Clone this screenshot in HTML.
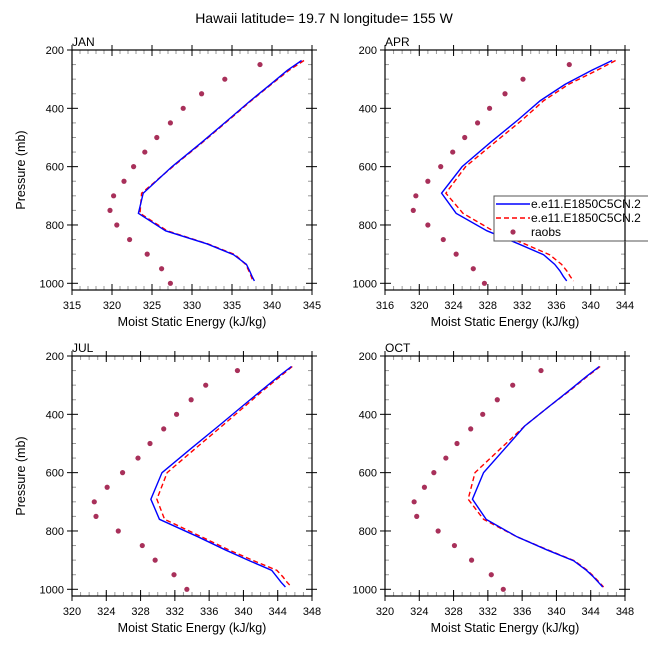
<!DOCTYPE html>
<html><head><meta charset="utf-8"><style>
html,body{margin:0;padding:0;background:#fff;}
svg text{font-family:"Liberation Sans",sans-serif;fill:#000;}
</style></head><body>
<svg id="fig" width="648" height="648" viewBox="0 0 648 648" xmlns="http://www.w3.org/2000/svg">
<rect width="648" height="648" fill="#fff"/>
<text x="324" y="23" font-size="14" text-anchor="middle">Hawaii  latitude= 19.7 N longitude= 155 W</text>
</svg>
<script>
const modelLevels=[236,270,318,374,440,517,600,691,760,820,865,902,935,957,976,992];
const obsLevels=[250,300,350,400,450,500,550,600,650,700,750,800,850,900,950,1000];
const janBlue=[343.7,341.9,339.8,337.3,334.5,331.2,327.5,323.9,323.3,326.7,331.9,335.2,336.8,337.2,337.5,337.8];
const janRed=[344.0,342.1,339.9,337.4,334.6,331.3,327.6,323.7,323.5,326.9,332.0,335.4,336.7,337.1,337.4,337.6];
const janObs=[338.5,334.1,331.2,328.9,327.3,325.6,324.1,322.7,321.5,320.2,319.75,320.6,322.2,324.4,326.2,327.3];
const aprBlue=[342.5,340.1,337.0,334.1,331.5,328.3,325.0,322.6,324.3,327.9,331.6,334.5,335.8,336.4,336.8,337.2];
const aprRed=[342.9,340.7,337.4,334.5,332.0,328.8,325.4,323.1,325.1,328.6,332.3,335.2,336.6,337.2,337.6,338.0];
const aprObs=[337.5,332.1,330.0,328.2,326.8,325.3,323.9,322.5,321.0,319.6,319.3,321.0,322.8,324.3,326.3,327.6];
const julBlue=[345.6,344.1,342.1,339.8,337.1,333.9,330.5,329.2,330.2,334.7,337.9,340.7,343.3,343.9,344.4,344.9];
const julRed=[345.7,344.3,342.3,340.1,337.5,334.4,331.1,329.9,330.8,335.1,338.3,341.2,343.9,344.6,345.1,345.6];
const julObs=[339.3,335.6,333.9,332.2,330.7,329.1,327.7,325.9,324.1,322.6,322.8,325.4,328.2,329.7,331.9,333.4];
const octBlue=[345.0,343.5,341.5,339.1,336.3,334.0,331.5,330.2,331.8,335.4,338.9,342.0,343.5,344.3,344.9,345.4];
const octRed=[345.1,343.6,341.6,339.1,336.3,333.5,330.5,329.7,331.5,335.4,339.0,342.1,343.6,344.4,345.0,345.5];
const octObs=[338.2,334.9,333.1,331.4,330.0,328.4,327.1,325.7,324.6,323.4,323.7,326.2,328.1,330.1,332.4,333.8];
const janTicks=[315,320,325,330,335,340,345];
const aprTicks=[316,320,324,328,332,336,340,344];
const julTicks=[320,324,328,332,336,340,344,348];
const octTicks=[320,324,328,332,336,340,344,348];
const pTicks=[200,400,600,800,1000];

const NS="http://www.w3.org/2000/svg";
const svg=document.getElementById('fig');
function mk(tag,attrs,parent){const e=document.createElementNS(NS,tag);for(const k in attrs)e.setAttribute(k,attrs[k]);(parent||svg).appendChild(e);return e;}

const panels=[
 {name:'jan',label:'JAN',x0:72,y0:50,ticks:janTicks,minor:1,blue:janBlue,red:janRed,obs:janObs,ylab:true},
 {name:'apr',label:'APR',x0:385,y0:50,ticks:aprTicks,minor:1,blue:aprBlue,red:aprRed,obs:aprObs,ylab:false},
 {name:'jul',label:'JUL',x0:72,y0:356,ticks:julTicks,minor:1,blue:julBlue,red:julRed,obs:julObs,ylab:true},
 {name:'oct',label:'OCT',x0:385,y0:356,ticks:octTicks,minor:1,blue:octBlue,red:octRed,obs:octObs,ylab:false}
];
const W=240,H=240;
panels.forEach(p=>{
 const g=mk('g',{});
 
 
 const xmin=p.ticks[0],xmax=p.ticks[p.ticks.length-1];
 const xs=v=>p.x0+(v-xmin)/(xmax-xmin)*W;
 const pb=200+H/(233.3/800);
 const ys=v=>p.y0+(v-200)/(pb-200)*H;
 for(let v=xmin;v<=xmax+1e-6;v+=p.minor){const x=xs(v);
  mk('line',{x1:x,x2:x,y1:p.y0+H,y2:p.y0+H-4,stroke:'#999','stroke-width':1},g);
  mk('line',{x1:x,x2:x,y1:p.y0,y2:p.y0+4,stroke:'#999','stroke-width':1},g);}
 for(let v=250;v<pb;v+=50){if(v%200===0)continue;const y=ys(v);
  mk('line',{x1:p.x0,x2:p.x0+4,y1:y,y2:y,stroke:'#999','stroke-width':1},g);
  mk('line',{x1:p.x0+W,x2:p.x0+W-4,y1:y,y2:y,stroke:'#999','stroke-width':1},g);}
 p.ticks.forEach(v=>{const x=xs(v);
  mk('line',{x1:x,x2:x,y1:p.y0+H-6,y2:p.y0+H+5,stroke:'#000','stroke-width':1},g);
  mk('line',{x1:x,x2:x,y1:p.y0-5,y2:p.y0+6,stroke:'#000','stroke-width':1},g);
  const t=mk('text',{x:x,y:p.y0+H+19,'font-size':11,'text-anchor':'middle'},g);t.textContent=v;
  
  });
 pTicks.forEach(v=>{const y=ys(v);
  mk('line',{x1:p.x0-5,x2:p.x0+6,y1:y,y2:y,stroke:'#000','stroke-width':1},g);
  mk('line',{x1:p.x0+W-6,x2:p.x0+W+5,y1:y,y2:y,stroke:'#000','stroke-width':1},g);
  const t=mk('text',{x:p.x0-8,y:y+4,'font-size':11,'text-anchor':'end'},g);t.textContent=v;
  
  });
 mk('rect',{x:p.x0,y:p.y0,width:W,height:H,fill:'none',stroke:'#000','stroke-width':1.2},g);
 const lab=mk('text',{x:p.x0,y:p.y0-4,'font-size':12},g);lab.textContent=p.label;
 
 
 const xl=mk('text',{x:p.x0+W/2,y:p.y0+H+36,'font-size':12.5,'text-anchor':'middle'},g);xl.textContent='Moist Static Energy (kJ/kg)';
 
 
 if(p.ylab){const yl=mk('text',{x:0,y:0,'font-size':12.5,'text-anchor':'middle',transform:`translate(25,${p.y0+H/2}) rotate(-90)`},g);yl.textContent='Pressure (mb)';
  
  }
 const rp=mk('polyline',{points:p.red.map((v,i)=>xs(v)+','+ys(modelLevels[i])).join(' '),fill:'none',stroke:'#ff0000','stroke-width':1.4,'stroke-dasharray':'5,3'},g);
 
 
 const bp=mk('polyline',{points:p.blue.map((v,i)=>xs(v)+','+ys(modelLevels[i])).join(' '),fill:'none',stroke:'#0000ff','stroke-width':1.4},g);
 
 
 p.obs.forEach((v,i)=>{const c=mk('circle',{cx:xs(v),cy:ys(obsLevels[i]),r:2.6,fill:'#a8305a'},g);
  
  });
});
const lg=mk('g',{});


mk('rect',{x:494,y:196,width:160,height:45,fill:'#fff',stroke:'#555','stroke-width':1},lg);
mk('line',{x1:496,x2:530,y1:204,y2:204,stroke:'#0000ff','stroke-width':1.4},lg);
mk('line',{x1:496,x2:530,y1:218,y2:218,stroke:'#ff0000','stroke-width':1.4,'stroke-dasharray':'5,3'},lg);
mk('circle',{cx:513,cy:232,r:2.6,fill:'#a8305a'},lg);
const le=[['e.e11.E1850C5CN.2',208],['e.e11.E1850C5CN.2',222],['raobs',236]];
le.forEach(([s,y])=>{const t=mk('text',{x:531,y:y,'font-size':12},lg);t.textContent=s;
 
 });
mk('line',{x1:625,x2:625,y1:196,y2:241,stroke:'#000','stroke-width':1.2},lg);
</script>
</body></html>
